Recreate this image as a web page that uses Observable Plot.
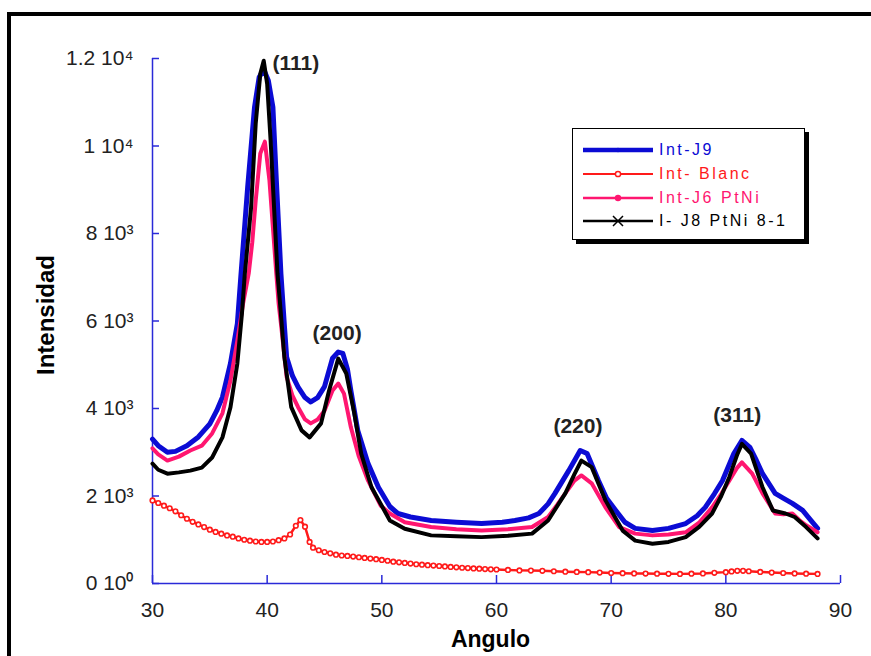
<!DOCTYPE html>
<html>
<head>
<meta charset="utf-8">
<script src="https://cdn.jsdelivr.net/npm/d3@7"></script>
<script src="https://cdn.jsdelivr.net/npm/@observablehq/plot@0.6"></script>
<style>
  body { margin: 0; background: #fff; }
  #wrap { position: relative; width: 871px; height: 656px; overflow: hidden; font-family: Arial, "Liberation Sans", sans-serif; background: #fff; }
  #frame { position: absolute; left: 7px; top: 12px; width: 920px; height: 720px; border: 4px solid #000; box-sizing: border-box; pointer-events: none; }
  #chart { position: absolute; left: 0; top: 0; }
  #legend { position: absolute; left: 572px; top: 128px; width: 233px; height: 112px; border: 1px solid #000; box-shadow: 4px 4px 0 #000; background: #fff; box-sizing: border-box; }
  #legend .row { position: absolute; left: 10px; height: 22px; display: flex; align-items: center; }
  #legend .lab { margin-left: 6px; font-size: 16px; letter-spacing: 2.5px; font-family: Arial, "Liberation Sans", sans-serif; }
</style>
</head>
<body>
<div id="wrap">
  <div id="chart"></div>
  <div id="legend"></div>
  <div id="frame"></div>
</div>
<script>
// ---------- data ----------
const seriesNames = ["Int-J9", "Int- Blanc", "Int-J6 PtNi", "I- J8 PtNi 8-1"];
const seriesColors = ["#0b0bd4", "#ff1a1a", "#ff1670", "#000000"];

const xTicks = [30, 40, 50, 60, 70, 80, 90];
const yTicks = [0, 2000, 4000, 6000, 8000, 10000, 12000];
const yTickLabels = ["0 10\u2070", "2 10\u00b3", "4 10\u00b3", "6 10\u00b3", "8 10\u00b3", "1 10\u2074", "1.2 10\u2074"];

const xTitle = "Angulo";
const yTitle = "Intensidad";

const peakLabels = ["(111)", "(200)", "(220)", "(311)"];
const peakX = [42.5, 46.1, 67.1, 81.0];
const peakY = [11900, 5710, 3590, 3840];

// Int-J9 (blue)
const j9 = [[30,3300],[30.5,3150],[31.3,3000],[32,3020],[33,3150],[34,3350],[35,3650],[35.6,3950],[36.1,4260],[36.8,5030],[37.4,5940],[37.7,7000],[38.3,9060],[38.9,10890],[39.3,11570],[39.7,11750],[40.1,11500],[40.5,10890],[40.8,9210],[41.2,7080],[41.5,5900],[41.7,5170],[42.2,4750],[42.7,4490],[43.3,4250],[43.8,4150],[44.4,4250],[45,4500],[45.7,5150],[46.2,5290],[46.6,5260],[47.0,4900],[47.3,4410],[47.9,3500],[48.8,2740],[49.7,2200],[50.7,1760],[51.4,1600],[52.5,1520],[54.3,1440],[56.5,1400],[58.7,1370],[60.5,1400],[61.6,1440],[62.8,1500],[63.7,1600],[64.5,1820],[65.1,2060],[66.3,2580],[67.3,3040],[67.9,2970],[68.9,2350],[69.6,1950],[70.4,1670],[71.2,1400],[72.1,1260],[73.6,1210],[75,1260],[76.5,1370],[77.5,1550],[78.2,1740],[79.0,2050],[79.7,2350],[80.7,2970],[81.4,3270],[82.1,3110],[82.6,2850],[83.2,2510],[84.3,2060],[85,1950],[85.8,1830],[86.7,1670],[87.4,1450],[88,1260]];

// Int- Blanc (red)
const blanc = [[30,1900],[30.5,1840],[31,1780],[31.5,1720],[32,1650],[32.5,1560],[33,1480],[33.5,1410],[34,1350],[34.5,1290],[35,1230],[35.5,1180],[36,1140],[36.5,1100],[37,1070],[37.5,1030],[38,1000],[38.5,980],[39,960],[39.5,950],[40,950],[40.5,960],[41,990],[41.5,1030],[42,1120],[42.5,1320],[42.9,1450],[43.3,1300],[43.7,950],[44,820],[44.5,760],[45,720],[45.5,690],[46,660],[46.5,640],[47,630],[47.5,615],[48,600],[48.5,585],[49,570],[49.5,555],[50,540],[50.5,520],[51,500],[51.5,485],[52,470],[52.5,455],[53,440],[53.5,430],[54,420],[54.5,410],[55,400],[55.5,390],[56,380],[56.5,370],[57,360],[57.5,352],[58,345],[58.5,338],[59,330],[59.5,325],[60,320],[61,310],[62,300],[63,295],[64,290],[65,280],[66,270],[67,265],[68,260],[69,250],[70,240],[71,235],[72,230],[73,228],[74,225],[75,222],[76,220],[77,225],[78,230],[79,245],[80,260],[80.5,275],[81,290],[81.5,290],[82,280],[83,265],[84,250],[85,240],[86,230],[87,225],[88,220]];

// Int-J6 PtNi (pink)
const j6 = [[30,3090],[30.5,2950],[31.3,2810],[32.3,2900],[33.3,3040],[34.3,3150],[35.2,3430],[36.1,3890],[36.8,4640],[37.4,5550],[37.9,6400],[38.4,7100],[38.7,7800],[39.0,8750],[39.4,9830],[39.8,10100],[40.2,9210],[40.5,8140],[40.8,7080],[41.0,6400],[41.2,5940],[41.7,4720],[42.2,4300],[42.7,4030],[43.3,3750],[43.8,3660],[44.4,3750],[45,3950],[45.7,4410],[46.2,4570],[46.7,4340],[47.3,3570],[48,2900],[48.8,2350],[49.9,1780],[50.7,1600],[52,1400],[54.3,1290],[56.5,1240],[58.7,1210],[61,1240],[63.1,1290],[64.5,1520],[65.3,1800],[66,2060],[66.8,2350],[67.4,2470],[68.3,2290],[69.5,1740],[70.7,1290],[72.1,1140],[73.6,1100],[75,1120],[76.5,1170],[77.7,1400],[78.8,1740],[79.6,2050],[80.3,2350],[81,2650],[81.4,2770],[82.3,2510],[83.2,2060],[84.3,1600],[85,1580],[85.8,1600],[86.4,1450],[87,1330],[88,1170]];

// I- J8 PtNi 8-1 (black)
const j8 = [[30,2740],[30.5,2600],[31.3,2510],[32.3,2540],[33.3,2580],[34.3,2650],[35.2,2880],[36.1,3340],[36.8,4030],[37.4,5030],[37.8,6170],[38.05,7080],[38.6,8600],[39.0,10510],[39.4,11650],[39.7,11950],[40.0,11420],[40.3,10130],[40.6,8600],[40.9,7080],[41.1,6470],[41.5,5170],[42.1,4030],[43,3500],[43.7,3340],[44.7,3660],[45.4,4410],[46.2,5140],[46.9,4800],[47.6,3890],[48.2,2970],[49.1,2200],[50.7,1440],[52,1250],[54.3,1100],[56.5,1080],[58.7,1060],[61,1090],[63.1,1140],[64.5,1440],[66,2060],[66.8,2500],[67.4,2810],[68.3,2660],[69.5,1900],[71,1210],[72.1,980],[73.6,910],[75,950],[76.5,1060],[77.7,1300],[78.8,1600],[79.6,2000],[80.3,2430],[81,2950],[81.4,3190],[82.2,2970],[83.2,2200],[84.1,1670],[85.2,1600],[86,1520],[87,1290],[88,1030]];

// ---------- chart ----------
const axisColor = "#2a2ad8";
const textColor = "#222";
const peaks = peakLabels.map((t, i) => ({t, x: peakX[i], y: peakY[i]}));

const chart = Plot.plot({
  width: 871,
  height: 656,
  marginLeft: 152,
  marginRight: 31,
  marginTop: 58,
  marginBottom: 73,
  style: {background: "transparent", fontFamily: "Arial, 'Liberation Sans', sans-serif", overflow: "visible"},
  x: {domain: [30, 90]},
  y: {domain: [0, 12000]},
  marks: [
    // inward ticks
    Plot.axisX({ticks: xTicks, tickSize: -8, tickFormat: () => "", stroke: axisColor, strokeWidth: 1.5, label: null}),
    Plot.axisY({ticks: yTicks, tickSize: -7, tickFormat: () => "", stroke: axisColor, strokeWidth: 1.5, label: null}),
    // tick labels
    Plot.axisX({ticks: xTicks, tickSize: 0, tickPadding: 19, fontSize: 21, fill: textColor, label: null}),
    Plot.axisY({ticks: yTicks, tickSize: 0, tickPadding: 19, fontSize: 21, fill: textColor, label: null,
      tickFormat: d => yTickLabels[yTicks.indexOf(d)]}),
    // axis lines
    Plot.ruleY([0], {stroke: axisColor, strokeWidth: 1.5}),
    Plot.ruleX([30], {stroke: axisColor, strokeWidth: 1.5}),
    // series
    Plot.line(blanc, {x: d => d[0], y: d => d[1], stroke: seriesColors[1], strokeWidth: 2.5}),
    Plot.dot(blanc, {x: d => d[0], y: d => d[1], r: 2.3, stroke: seriesColors[1], fill: "#fff", strokeWidth: 1.6}),
    Plot.line(j9, {x: d => d[0], y: d => d[1], stroke: seriesColors[0], strokeWidth: 5}),
    Plot.line(j6, {x: d => d[0], y: d => d[1], stroke: seriesColors[2], strokeWidth: 4}),
    Plot.line(j8, {x: d => d[0], y: d => d[1], stroke: seriesColors[3], strokeWidth: 4}),
    // peak labels
    Plot.text(peaks, {x: "x", y: "y", text: "t", fontSize: 21, fontWeight: "bold", fill: textColor, letterSpacing: 1}),
    // axis titles
    Plot.text([xTitle], {frameAnchor: "bottom", textAnchor: "middle", lineAnchor: "middle", dx: -6, dy: 56, fontSize: 23, fontWeight: "bold", fill: "#000", letterSpacing: 1, text: d => d}),
    Plot.text([yTitle], {frameAnchor: "left", textAnchor: "middle", lineAnchor: "middle", dx: -106, dy: -6, rotate: -90, fontSize: 24, fontWeight: "bold", fill: "#000", letterSpacing: 0.5, text: d => d})
  ]
});
document.getElementById("chart").appendChild(chart);

// ---------- legend ----------
const legend = document.getElementById("legend");
const rowTops = [10, 34, 58, 81];
const markerSvg = [
  c => `<circle cx="35" cy="11" r="2.2" fill="${c}"/>`,
  c => `<circle cx="35" cy="11" r="2.6" fill="#fff" stroke="${c}" stroke-width="1.5"/>`,
  c => `<circle cx="35" cy="11" r="3.2" fill="${c}"/>`,
  c => `<path d="M30,6L40,16M40,6L30,16" stroke="${c}" stroke-width="1.5"/>`
];
const lineW = [4.5, 2, 2.5, 2.5];
seriesNames.forEach((name, i) => {
  const row = document.createElement("div");
  row.className = "row";
  row.style.top = rowTops[i] + "px";
  row.innerHTML = `<svg width="70" height="22"><line x1="0" x2="70" y1="11" y2="11" stroke="${seriesColors[i]}" stroke-width="${lineW[i]}"/>${markerSvg[i](seriesColors[i])}</svg><span class="lab" style="color:${seriesColors[i]}">${name}</span>`;
  legend.appendChild(row);
});
</script>
</body>
</html>
